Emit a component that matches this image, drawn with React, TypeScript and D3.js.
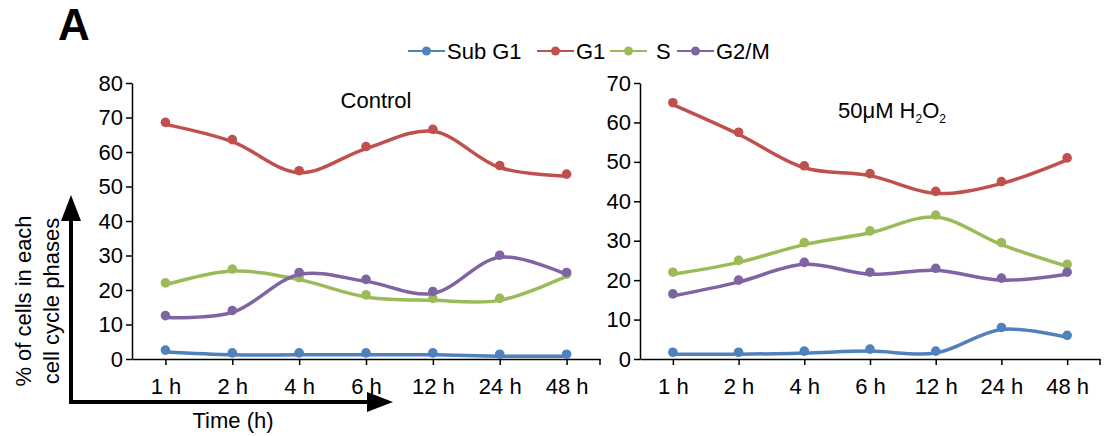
import React, { useEffect, useRef } from 'react';
import * as d3 from 'd3';

// time points (x axis)
const times = ['1 h', '2 h', '4 h', '6 h', '12 h', '24 h', '48 h'];
const phases = ['Sub G1', 'G1', 'S', 'G2/M'];
const phaseColors = ['#4f81bd', '#c0504d', '#9bbb59', '#8064a2'];

// Control
const controlSubG1 = [2, 1.2, 1.2, 1.2, 1.2, 0.8, 0.8];
const controlG1 = [68, 63, 54, 61, 66, 55.5, 53];
const controlS = [21.5, 25.5, 23, 18, 17, 17, 24];
const controlG2M = [12, 13.5, 24.5, 22.5, 19, 29.5, 24.5];

// 50uM H2O2
const h2o2SubG1 = [1.2, 1.2, 1.5, 2, 1.5, 7.5, 5.5];
const h2o2G1 = [64.5, 57, 48.5, 46.5, 42, 44.5, 50.5];
const h2o2S = [21.5, 24.5, 29, 32, 36, 29, 23.5];
const h2o2G2M = [16, 19.5, 24, 21.5, 22.5, 20, 21.5];

const controlTicks = [0, 10, 20, 30, 40, 50, 60, 70, 80];
const h2o2Ticks = [0, 10, 20, 30, 40, 50, 60, 70];

const FONT = '"Liberation Sans", Arial, Helvetica, sans-serif';

const App: React.FC = () => {
    const ref = useRef<SVGSVGElement>(null);

    useEffect(() => {
        const svg = d3.select(ref.current);
        svg.selectAll('*').remove();

        const top = 83;
        const bottom = 359;

        const panels = [
            { left: 132, right: 600, yMax: 80, ticks: controlTicks, series: [controlSubG1, controlG1, controlS, controlG2M] },
            { left: 640, right: 1100, yMax: 70, ticks: h2o2Ticks, series: [h2o2SubG1, h2o2G1, h2o2S, h2o2G2M] },
        ];

        panels.forEach(p => {
            const x = d3.scalePoint<string>().domain(times).range([p.left, p.right]).padding(0.5);
            const y = d3.scaleLinear().domain([0, p.yMax]).range([bottom, top]);

            const g = svg.append('g');

            const yAxis = g.append('g')
                .attr('transform', `translate(${p.left},0)`)
                .call(d3.axisLeft(y).tickValues(p.ticks).tickSize(6).tickSizeOuter(0).tickPadding(3));
            const xAxis = g.append('g')
                .attr('transform', `translate(0,${bottom})`)
                .call(d3.axisBottom(x).tickSize(6).tickSizeOuter(0).tickPadding(13));
            xAxis.append('line')
                .attr('x1', p.right).attr('x2', p.right)
                .attr('y1', 0).attr('y2', 6)
                .attr('stroke', '#000').attr('stroke-width', 1.5);

            [yAxis, xAxis].forEach(a => {
                a.selectAll('path, line').attr('stroke', '#000').attr('stroke-width', 1.5);
                a.selectAll('text')
                    .attr('fill', '#000')
                    .style('font-family', FONT)
                    .style('font-size', '22px');
            });

            const line = d3.line<number>()
                .x((_, i) => x(times[i]) as number)
                .y(d => y(d))
                .curve(d3.curveCatmullRom.alpha(0.5));

            p.series.forEach((vals, si) => {
                g.append('path')
                    .attr('d', line(vals) as string)
                    .attr('fill', 'none')
                    .attr('stroke', phaseColors[si])
                    .attr('stroke-width', 3.5);
                g.selectAll(null)
                    .data(vals)
                    .enter().append('circle')
                    .attr('cx', (_, i) => x(times[i]) as number)
                    .attr('cy', d => y(d) - 2)
                    .attr('r', 4.8)
                    .attr('fill', phaseColors[si]);
            });
        });

        // panel titles
        svg.append('text')
            .attr('x', 376).attr('y', 108)
            .attr('text-anchor', 'middle')
            .style('font-family', FONT).style('font-size', '22px')
            .text('Control');

        const t2 = svg.append('text')
            .attr('x', 838).attr('y', 118)
            .style('font-family', FONT).style('font-size', '22px');
        t2.append('tspan').text('50μM H');
        t2.append('tspan').attr('dy', 5).style('font-size', '12px').text('2');
        t2.append('tspan').attr('dy', -5).text('O');
        t2.append('tspan').attr('dy', 5).style('font-size', '12px').text('2');

        // panel letter
        svg.append('text')
            .attr('x', 58).attr('y', 40)
            .style('font-family', FONT).style('font-size', '44px').style('font-weight', 'bold')
            .text('A');

        // legend
        const legendX = [408, 537, 610, 677];
        const legendY = 51;
        phases.forEach((name, i) => {
            const lg = svg.append('g').attr('transform', `translate(${legendX[i]},${legendY})`);
            lg.append('line').attr('x1', 0).attr('x2', 37).attr('y1', 0).attr('y2', 0)
                .attr('stroke', phaseColors[i]).attr('stroke-width', 2);
            lg.append('circle').attr('cx', 18.5).attr('cy', 0).attr('r', 4.5).attr('fill', phaseColors[i]);
            lg.append('text')
                .attr('x', name === 'S' ? 46 : 39).attr('y', 8)
                .style('font-family', FONT).style('font-size', '22px')
                .text(name);
        });

        // axis arrows
        svg.append('path')
            .attr('d', 'M71,220V402H367')
            .attr('fill', 'none')
            .attr('stroke', '#000')
            .attr('stroke-width', 4);
        svg.append('path').attr('d', 'M61,221L71,195L81,221Z').attr('fill', '#000');
        svg.append('path').attr('d', 'M367,392L393,402L367,412Z').attr('fill', '#000');

        svg.append('text')
            .attr('x', 233).attr('y', 428)
            .attr('text-anchor', 'middle')
            .style('font-family', FONT).style('font-size', '22px')
            .text('Time (h)');

        const yl = svg.append('text')
            .attr('transform', 'translate(31,301) rotate(-90)')
            .attr('text-anchor', 'middle')
            .style('font-family', FONT).style('font-size', '22px');
        yl.append('tspan').attr('x', 0).attr('dy', 0).text('% of cells in each');
        yl.append('tspan').attr('x', 0).attr('dy', 28).text('cell cycle phases');
    }, []);

    return (
        <svg ref={ref} width={1105} height={436}
            style={{ position: 'absolute', left: 0, top: 0, background: '#fff' }} />
    );
};

export default App;
